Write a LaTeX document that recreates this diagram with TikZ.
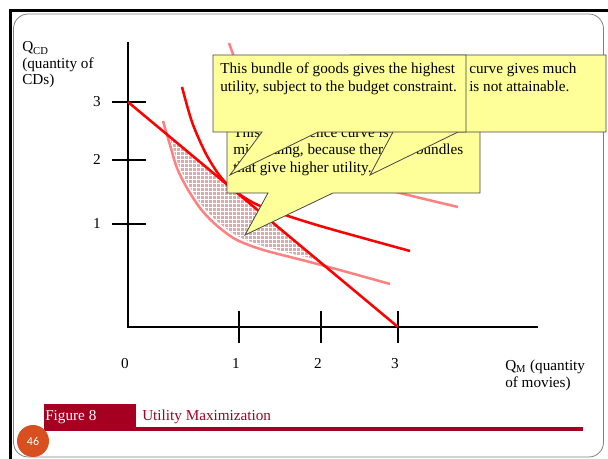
\documentclass[tikz,border=0pt]{standalone}
\usepackage{fontspec}
\setmainfont{Liberation Serif}
\newfontfamily\slidenumfont{Carlito}
\usetikzlibrary{patterns}
\definecolor{budgetred}{RGB}{255,0,0}
\definecolor{curvepink}{RGB}{255,128,128}
\definecolor{noteyellow}{RGB}{255,255,153}
\definecolor{notegray}{RGB}{70,70,70}
\definecolor{figred}{RGB}{165,0,33}
\definecolor{numorange}{RGB}{216,80,32}
\definecolor{shadepink}{RGB}{214,172,172}
\tikzset{
  redcurve/.style={budgetred, line width=1.9pt},
  pinkcurve/.style={curvepink, line width=1.9pt},
  note/.style={fill=noteyellow, draw=notegray, line width=0.6pt},
  notetext/.style={anchor=north west, inner sep=0pt, align=left},
}
\begin{document}
\begin{tikzpicture}[x=0.75pt,y=-0.75pt,font=\fontsize{11.4}{13.1}\selectfont]
\useasboundingbox (0,0) rectangle (608,459);
% slide frame
\draw[line width=2.2pt] (10.5,459) -- (10.5,10.5) -- (608,10.5);
\draw[gray, line width=0.6pt, rounded corners=11pt] (13.5,14) rectangle (603.5,457);

% axes
\draw[line width=2pt] (128,42) -- (128,327) -- (538,327);
\foreach \yy/\lab in {102/3,160/2,224/1} % ticks on the CD axis
{\draw[line width=0.8pt] (112,\yy) -- (146,\yy);
\node[anchor=base] (ylab\lab) at (97,\yy+4.5) {\lab};}
\foreach \xx/\lab in {239/1,321/2,398/3} % ticks on the movie axis
{\draw[line width=0.8pt] (\xx,311) -- (\xx,343);
\node[anchor=base] (xlab\lab) at (\xx-3,368.5) {\lab};}
\node[anchor=base] (xlab0) at (125,368.5) {0};
\node[anchor=north west, inner sep=0pt, align=left, font=\fontsize{11.4}{12.4}\selectfont] (cdlabel) at (22,41.5) {Q\textsubscript{CD}\\(quantity of\\CDs)};
\node[anchor=north west, inner sep=0pt, align=left, font=\fontsize{11.4}{12.8}\selectfont] (movielabel) at (505,359.5) {Q\textsubscript{M} (quantity\\of movies)};

% bundles between the budget line and the low curve
\path[preaction={fill=shadepink}, pattern=grid, pattern color=white] (168,135) -- (320,261.3) -- plot[smooth] coordinates {(318,260.5) (291,254) (261,246) (236,236) (216,221) (201,205) (188,185) (178,165) (171,143) (168,136)} -- cycle;
\draw[white, line width=0.7pt] plot[smooth] coordinates {(318,260.5) (291,254) (261,246) (236,236) (216,221) (201,205) (188,185) (178,165) (171,143) (168,136)};

% indifference curves and budget line
\draw[pinkcurve] plot[smooth] coordinates {(163,121) (170,145) (177,168) (187,188) (200,208) (215,224) (235,239) (260,249) (290,257) (325,266) (390,284)};
\draw[pinkcurve] plot[smooth] coordinates {(229,43) (236,62) (250,95) (275,128) (310,158) (350,179) (400,193) (458,207)};
\draw[redcurve] plot[smooth] coordinates {(182,87) (192,122) (205,152) (217,172) (227,184) (242,196) (258,205) (285,215) (327,228) (410,251)};
\draw[redcurve] (128,102) -- (398,327);

% callouts, back to front
\draw[note] (227,112) -- (480,112) -- (480,193) -- (333,193) -- (245,235) -- (268,193) -- (227,193) -- cycle;
\node[notetext] (misleading) at (233,126.5) {This indifference curve is\\misleading, because there are bundles\\that give higher utility.};
\draw[note] (350,55) -- (606,55) -- (606,132) -- (458,132) -- (370,175) -- (393,132) -- (350,132) -- cycle;
\node[notetext] (unattainable) at (469,63) {curve gives much\\is not attainable.};
\draw[note] (213,55) -- (466,55) -- (466,132) -- (318,132) -- (230,175) -- (262,132) -- (213,132) -- cycle;
\node[notetext] (highest) at (220,63) {This bundle of goods gives the highest\\utility, subject to the budget constraint.};

% caption bar
\fill[figred] (44,404) rectangle (136,427.5);
\fill[figred] (44,427) rectangle (583,431);
\node[anchor=base west, inner sep=0pt, text=white] (fignum) at (45,421) {Figure 8};
\node[anchor=base west, inner sep=0pt, text=figred] (figtitle) at (142,421) {Utility Maximization};
\node[circle, fill=numorange, minimum size=24pt, inner sep=0pt, text=white, font=\slidenumfont\fontsize{9}{10}\selectfont] (slideno) at (33,441) {46};
\end{tikzpicture}
\end{document}
